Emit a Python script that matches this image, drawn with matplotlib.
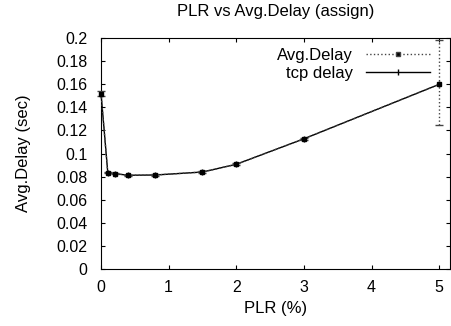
import matplotlib
matplotlib.use("Agg")
import matplotlib.pyplot as plt
from matplotlib.lines import Line2D

plr = [0, 0.1, 0.2, 0.4, 0.8, 1.5, 2, 3, 5]
avg_delay = [0.152, 0.0834, 0.0826, 0.0812, 0.0814, 0.0840, 0.0907, 0.1128, 0.160]
avg_err_lo = [0.002, 0.0005, 0.0005, 0.0005, 0.0005, 0.0005, 0.0008, 0.0008, 0.035]
avg_err_hi = [0.002, 0.0005, 0.0005, 0.0005, 0.0005, 0.0005, 0.0008, 0.0008, 0.038]
tcp_delay = [0.152, 0.0834, 0.0826, 0.0812, 0.0814, 0.0840, 0.0907, 0.1128, 0.160]

plt.rcParams.update({"font.family": ["Liberation Sans", "DejaVu Sans"], "font.size": 12})

fig = plt.figure(figsize=(4.51, 3.26), dpi=100)
ax = fig.add_axes([0.224, 0.175, 0.774, 0.708])

eb = ax.errorbar(plr, avg_delay, yerr=[avg_err_lo, avg_err_hi], color="#444444", ls=":", lw=1,
                 marker="s", ms=3.5, mfc="black", mec="black", capsize=3, elinewidth=1,
                 clip_on=False, zorder=3)
eb[-1][0].set_linestyle(":")
ax.plot(plr, tcp_delay, color="black", lw=1, marker="|", ms=4, clip_on=False)

ax.set_xlim(0, 5.16)
ax.set_ylim(0, 0.2)
ax.set_xticks(range(6))
ax.set_yticks([i * 0.02 for i in range(11)])
ax.set_yticklabels(["0", "0.02", "0.04", "0.06", "0.08", "0.1", "0.12", "0.14",
                    "0.16", "0.18", "0.2"])
ax.tick_params(direction="in", top=True, right=True, length=3, width=0.8, labelsize=11.5)
ax.tick_params(axis="x", pad=8)
ax.tick_params(axis="y", pad=10)
ax.set_xlabel("PLR (%)", labelpad=4)
ax.set_ylabel("Avg.Delay (sec)", labelpad=18)
ax.set_title("PLR vs Avg.Delay (assign)", fontsize=12, pad=16)

handles = [Line2D([], [], color="#444444", ls=":", lw=1, marker="s", ms=2.5, mfc="black"),
           Line2D([], [], color="black", lw=1, marker="|", ms=4)]
ax.legend(handles, ["Avg.Delay", "tcp delay"], loc="upper right", frameon=False,
          markerfirst=False, handlelength=3.8, handletextpad=0.8, borderaxespad=0.2,
          labelspacing=0.15, fontsize=12, bbox_to_anchor=(0.97, 1.0))

fig.savefig("out.png", dpi=100)
